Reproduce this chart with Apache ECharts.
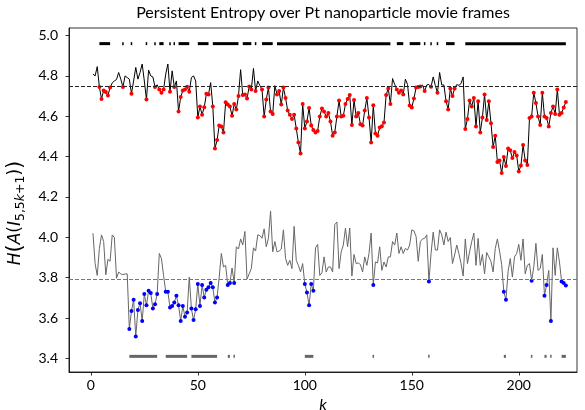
<!DOCTYPE html>
<html><head><meta charset="utf-8">
<script src="https://cdn.jsdelivr.net/npm/echarts@6/dist/echarts.min.js"></script>
<style>html,body{margin:0;padding:0;background:#fff}#c{width:585px;height:410px}</style>
</head><body><div id="c"></div>
<script>
const titleText = 'Persistent Entropy over Pt nanoparticle movie frames';
const xTicks = [0, 50, 100, 150, 200];
const yTicks = [3.4, 3.6, 3.8, 4.0, 4.2, 4.4, 4.6, 4.8, 5.0];
const upperMean = 4.750;
const lowerMean = 3.789;
const upperBarY = 4.96;
const lowerBarY = 3.41;
const upper = [
4.809,4.800,4.846,4.745,4.686,4.728,4.720,4.703,4.742,4.765,
4.775,4.782,4.817,4.784,4.745,4.800,4.792,4.784,4.712,4.775,
4.842,4.784,4.817,4.859,4.775,4.683,4.829,4.800,4.795,4.745,
4.756,4.733,4.717,4.733,4.809,4.859,4.721,4.825,4.745,4.775,
4.624,4.695,4.728,4.733,4.746,4.721,4.792,4.800,4.775,4.594,
4.649,4.608,4.645,4.711,4.708,4.767,4.649,4.440,4.482,4.554,
4.549,4.519,4.670,4.658,4.649,4.602,4.661,4.633,4.700,4.831,
4.705,4.708,4.688,4.747,4.733,4.837,4.725,4.775,4.752,4.733,
4.599,4.683,4.742,4.624,4.611,4.752,4.708,4.725,4.658,4.742,
4.691,4.628,4.608,4.586,4.608,4.540,4.470,4.415,4.661,4.540,
4.574,4.641,4.554,4.532,4.520,4.527,4.599,4.638,4.624,4.599,
4.616,4.574,4.504,4.520,4.599,4.678,4.599,4.602,4.661,4.686,
4.705,4.557,4.681,4.599,4.616,4.561,4.554,4.628,4.691,4.594,
4.470,4.654,4.515,4.504,4.544,4.550,4.569,4.705,4.738,4.661,
4.787,4.758,4.733,4.717,4.728,4.708,4.784,4.758,4.653,4.644,
4.688,4.742,4.745,4.748,4.755,4.725,4.755,4.758,4.746,4.795,
4.752,4.717,4.817,4.755,4.755,4.675,4.633,4.738,4.700,4.738,
4.757,4.753,4.762,4.795,4.537,4.587,4.678,4.649,4.691,4.549,
4.675,4.520,4.594,4.708,4.582,4.675,4.566,4.448,4.504,4.373,
4.381,4.319,4.398,4.353,4.440,4.431,4.393,4.423,4.406,4.326,
4.356,4.457,4.381,4.359,4.591,4.599,4.717,4.666,4.599,4.557,
4.717,4.599,4.591,4.549,4.616,4.649,4.611,4.733,4.608,4.616,
4.644,4.671];
const lower = [
4.020,3.870,3.811,3.945,4.012,3.979,3.814,3.891,3.881,4.012,
3.999,3.797,3.828,3.819,3.814,3.819,3.819,3.546,3.635,3.690,
3.509,3.640,3.673,3.585,3.719,3.663,3.735,3.724,3.647,3.668,
3.719,3.920,3.895,3.811,3.730,3.730,3.652,3.660,3.677,3.710,
3.663,3.585,3.660,3.606,3.627,3.803,3.647,3.590,3.643,3.769,
3.660,3.764,3.702,3.740,3.752,3.774,3.752,3.677,3.702,3.803,
3.920,3.853,3.861,3.764,3.774,3.848,3.774,3.953,3.942,3.992,
3.962,4.029,3.793,3.819,3.845,3.948,3.932,4.012,4.009,3.995,
4.042,3.953,3.995,4.130,3.928,3.979,3.928,3.932,3.942,4.037,
3.895,3.861,3.886,3.845,4.054,3.886,3.861,3.828,3.870,3.769,
3.727,3.663,3.769,3.735,3.948,3.965,3.811,3.824,3.903,3.828,
3.853,3.853,3.828,4.063,4.076,3.845,3.928,3.962,4.046,3.953,
4.046,3.808,3.915,3.870,3.873,3.865,3.828,3.903,3.861,3.920,
4.021,3.764,3.878,3.873,3.953,3.836,3.878,3.853,3.903,3.903,
3.979,3.962,4.021,3.920,3.953,3.920,3.945,3.937,3.962,4.037,
4.032,4.004,3.881,3.979,3.992,3.995,4.012,3.781,3.920,4.026,
3.937,3.937,4.037,4.012,3.962,4.026,3.979,3.999,3.870,3.912,
3.962,3.920,3.870,3.808,3.992,3.870,3.928,3.979,4.021,3.861,
3.995,3.861,3.915,3.819,3.925,3.903,3.881,3.828,3.945,3.992,
3.932,3.865,3.730,3.690,3.831,3.895,3.803,3.903,3.920,3.965,
3.886,3.992,3.819,3.861,3.870,3.785,3.853,3.970,3.836,3.845,
3.915,3.710,3.764,3.836,3.585,3.948,3.811,3.948,3.878,3.781,
3.774,3.761];

const F = 'Lato, "Open Sans", sans-serif';
const M = '"DejaVu Sans", sans-serif';
const ks = upper.map((_, i) => i + 1);
function runs(vals, thr, y) {
  const out = []; let s = null;
  vals.forEach((v, i) => {
    const k = i + 1;
    if (v < thr) { if (s === null) s = k; }
    else if (s !== null) { out.push([s, k - 1, y]); s = null; }
  });
  if (s !== null) out.push([s, vals.length, y]);
  return out;
}
function barItem(params, api) {
  const s = api.coord([api.value(0), api.value(2)]);
  const e = api.coord([api.value(1), api.value(2)]);
  let x = s[0], w = e[0] - s[0];
  if (w < 1.5) { x -= 0.75; w = 1.5; }
  return { type: 'rect', shape: { x: x, y: s[1] - 1.5, width: w, height: 3 }, style: { fill: api.visual('color') } };
}
const chart = echarts.init(document.getElementById('c'), null, { renderer: 'canvas' });
chart.setOption({
  animation: false,
  title: { text: titleText, left: 323, top: 5, padding: 0, textAlign: 'center',
    textStyle: { fontFamily: F, fontSize: 16, fontWeight: 'normal', color: '#000' } },
  grid: { left: 69, right: 8, top: 28, bottom: 38, show: true, borderColor: '#000', borderWidth: 0.8,
    containLabel: false, outerBoundsMode: 'none' },
  xAxis: {
    type: 'value', min: -10.2, max: 227.2,
    name: 'k', nameLocation: 'middle', nameGap: 23,
    nameTextStyle: { fontFamily: F, fontSize: 16, fontStyle: 'italic', color: '#000' },
    axisLine: { show: true, onZero: false, lineStyle: { color: '#000', width: 0.8 } },
    axisTick: { show: true, inside: false, customValues: xTicks, length: 3.5, lineStyle: { color: '#000', width: 0.8 } },
    axisLabel: { customValues: xTicks, fontFamily: F, fontSize: 14, color: '#000', margin: 6 },
    splitLine: { show: false }
  },
  yAxis: {
    type: 'value', min: 3.3325, max: 5.0375,
    name: '{i|H}{b|(}{i|A}{n|(}{i|I}{s|5,5}{si|k}{s|+1}{n|)}{b|)}',
    nameLocation: 'middle', nameGap: 37, nameRotate: 90,
    nameTextStyle: { fontFamily: M, color: '#000', padding: [0, 26, 0, 0], rich: {
      i: { fontFamily: M, fontSize: 17, fontStyle: 'italic', lineHeight: 24, verticalAlign: 'middle' },
      n: { fontFamily: M, fontSize: 17, lineHeight: 24, verticalAlign: 'middle' },
      b: { fontFamily: M, fontSize: 21, lineHeight: 24, verticalAlign: 'middle' },
      s: { fontFamily: M, fontSize: 12.5, lineHeight: 24, verticalAlign: 'bottom' },
      si: { fontFamily: M, fontSize: 12.5, fontStyle: 'italic', lineHeight: 24, verticalAlign: 'bottom' }
    } },
    axisLine: { show: true, onZero: false, lineStyle: { color: '#000', width: 0.8 } },
    axisTick: { show: true, inside: false, customValues: yTicks, length: 3.5, lineStyle: { color: '#000', width: 0.8 } },
    axisLabel: { customValues: yTicks, fontFamily: F, fontSize: 14, color: '#000', margin: 11,
      formatter: v => v.toFixed(1) },
    splitLine: { show: false }
  },
  series: [
    { type: 'line', data: ks.map((k, i) => [k, upper[i]]),
      lineStyle: { color: '#000', width: 1 }, symbol: 'circle', showAllSymbol: true,
      symbolSize: v => v[1] < upperMean ? 4 : 0,
      itemStyle: { color: '#ff0000' }, emphasis: { disabled: true }, z: 3,
      markLine: { silent: true, symbol: ['none', 'none'], label: { show: false },
        lineStyle: { color: '#222', type: [4, 2], width: 1 }, data: [{ yAxis: upperMean }] } },
    { type: 'line', data: ks.map((k, i) => [k, lower[i]]),
      lineStyle: { color: '#666', width: 1 }, symbol: 'circle', showAllSymbol: true,
      symbolSize: v => v[1] < lowerMean ? 4 : 0,
      itemStyle: { color: '#0000ff' }, emphasis: { disabled: true }, z: 3,
      markLine: { silent: true, symbol: ['none', 'none'], label: { show: false },
        lineStyle: { color: '#777', type: [4, 2], width: 1 }, data: [{ yAxis: lowerMean }] } },
    { type: 'custom', renderItem: barItem, data: runs(upper, upperMean, upperBarY),
      encode: { x: [0, 1], y: 2 }, itemStyle: { color: '#000' }, silent: true },
    { type: 'custom', renderItem: barItem, data: runs(lower, lowerMean, lowerBarY),
      encode: { x: [0, 1], y: 2 }, itemStyle: { color: '#666' }, silent: true }
  ]
});
</script></body></html>
